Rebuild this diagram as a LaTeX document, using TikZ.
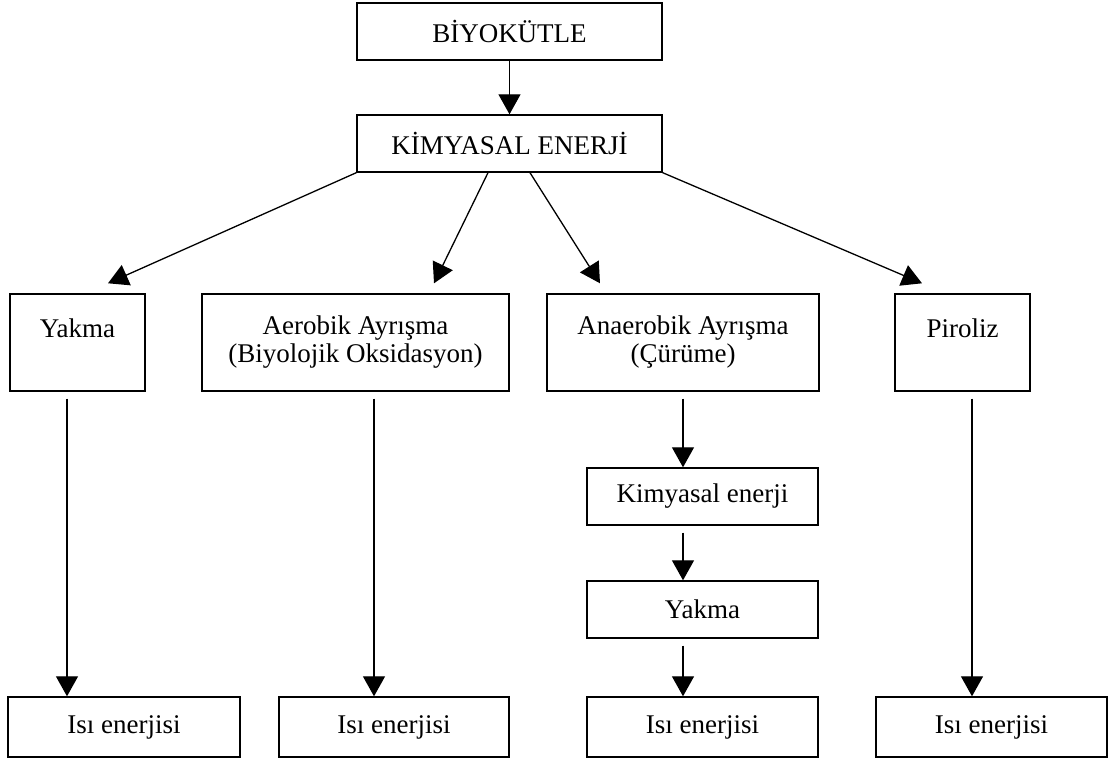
\documentclass[tikz,border=0pt]{standalone}
\usepackage{fontspec}
\setmainfont{Liberation Serif}
\usetikzlibrary{arrows.meta}

\begin{document}
\begin{tikzpicture}[x=1pt, y=-1pt, line width=1.4pt,
  kutu/.style={draw, rectangle, inner sep=0pt, align=center,
    font=\fontsize{27}{28}\selectfont},
  ok/.style={-{Triangle[length=20pt, width=22pt]}, line width=1.3pt}]
\useasboundingbox (0,0) rectangle (1120,760);
% top of the chart
\node[kutu, minimum width=305pt, minimum height=57pt] (bio) at (509.5,31.5) {BİYOKÜTLE};
\node[kutu, minimum width=305pt, minimum height=57pt] (kim) at (509.5,143.5) {KİMYASAL ENERJİ};
% four ways
\node[kutu, minimum width=135pt, minimum height=97pt] (yakma) at (77.5,342.5) {Yakma\\\mbox{}};
\node[kutu, minimum width=307pt, minimum height=97pt] (aero) at (355.5,342.5) {Aerobik Ayrışma\\(Biyolojik Oksidasyon)};
\node[kutu, minimum width=272pt, minimum height=97pt] (anae) at (683,342.5) {Anaerobik Ayrışma\\(Çürüme)};
\node[kutu, minimum width=135pt, minimum height=97pt] (piro) at (962.5,342.5) {Piroliz\\\mbox{}};
% anaerobic chain
\node[kutu, minimum width=231pt, minimum height=57pt] (kimB) at (702.5,496.5) {Kimyasal enerji};
\node[kutu, minimum width=231pt, minimum height=57pt] (yakB) at (702.5,609.5) {Yakma};
% results
\node[kutu, minimum width=232pt, minimum height=60pt] (isiA) at (124,727) {Isı enerjisi};
\node[kutu, minimum width=230pt, minimum height=60pt] (isiB) at (394,727) {Isı enerjisi};
\node[kutu, minimum width=231pt, minimum height=60pt] (isiC) at (702.5,727) {Isı enerjisi};
\node[kutu, minimum width=231pt, minimum height=60pt] (isiD) at (991.5,727) {Isı enerjisi};

\draw[ok] (bio.south) -- (kim.north);
\draw[ok] (kim.south west) -- ([xshift=30.5pt, yshift=10pt]yakma.north);
\draw[ok] ([xshift=-21.5pt]kim.south) -- ([xshift=78.5pt, yshift=10pt]aero.north);
\draw[ok] ([xshift=20.5pt]kim.south) -- ([xshift=-83pt, yshift=10pt]anae.north);
\draw[ok] (kim.south east) -- ([xshift=-40.5pt, yshift=10pt]piro.north);

\draw[ok, shorten <=7pt] ([xshift=-10.5pt]yakma.south) -- ([xshift=-10.5pt]yakma.south |- isiA.north);
\draw[ok, shorten <=7pt] ([xshift=18.5pt]aero.south) -- ([xshift=18.5pt]aero.south |- isiB.north);
\draw[ok, shorten <=7pt] (anae.south) -- (anae.south |- kimB.north);
\draw[ok, shorten <=7pt] (anae.south |- kimB.south) -- (anae.south |- yakB.north);
\draw[ok, shorten <=7pt] (anae.south |- yakB.south) -- (anae.south |- isiC.north);
\draw[ok, shorten <=7pt] ([xshift=9.5pt]piro.south) -- ([xshift=9.5pt]piro.south |- isiD.north);
\end{tikzpicture}
\end{document}
